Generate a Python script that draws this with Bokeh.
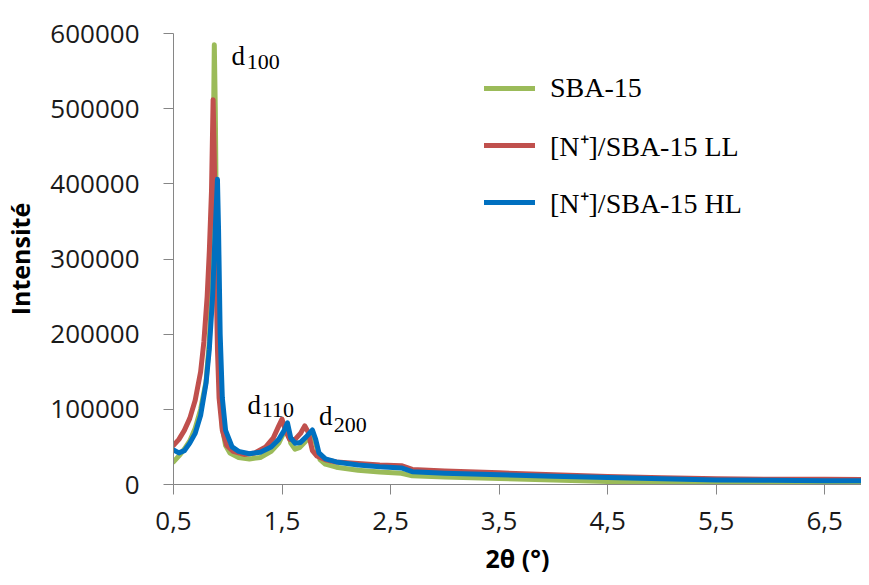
from bokeh.plotting import figure
from bokeh.models import Range1d, FixedTicker, Legend, LegendItem, Label
from bokeh.embed import file_html
from bokeh.resources import INLINE

# ---------------- data ----------------
SBA_X = [0.5, 0.55, 0.6, 0.65, 0.7, 0.75, 0.8, 0.83, 0.85, 0.86, 0.87, 0.876, 0.885, 0.895,
         0.91, 0.93, 0.95, 0.98, 1.02, 1.1, 1.2, 1.3, 1.4, 1.47, 1.52, 1.55, 1.58, 1.62, 1.66,
         1.72, 1.78, 1.81, 1.85, 1.9, 2.0, 2.2, 2.4, 2.6, 2.7, 3.0, 3.5, 4.0, 4.5, 5.0, 5.5,
         6.0, 6.5, 6.9]
SBA_Y = [30000, 38000, 47000, 58000, 75000, 100000, 137000, 190000, 260000, 360000, 500000,
         585000, 500000, 350000, 220000, 120000, 75000, 52000, 42000, 36000, 34000, 36000,
         44000, 55000, 70000, 78000, 55000, 47000, 49000, 58000, 68000, 55000, 33000, 27000,
         23000, 19000, 16500, 15000, 11500, 10000, 8000, 6000, 4000, 3500, 3000, 3000, 3000,
         3000]

LL_X = [0.5, 0.55, 0.6, 0.65, 0.7, 0.75, 0.78, 0.81, 0.83, 0.85, 0.865, 0.875, 0.89, 0.905,
        0.92, 0.95, 0.99, 1.05, 1.15, 1.25, 1.35, 1.42, 1.47, 1.5, 1.53, 1.57, 1.62, 1.67,
        1.71, 1.74, 1.78, 1.82, 1.9, 2.0, 2.2, 2.4, 2.6, 2.7, 3.0, 3.5, 4.0, 4.5, 5.0, 5.5,
        6.0, 6.5, 6.9]
LL_Y = [52000, 60000, 72000, 88000, 112000, 150000, 190000, 250000, 310000, 390000, 512000,
        440000, 300000, 180000, 115000, 72000, 52000, 44000, 40000, 42000, 50000, 62000,
        78000, 87000, 72000, 60000, 60000, 68000, 78000, 70000, 45000, 38000, 33000, 30000,
        28000, 26000, 25000, 20000, 18000, 15500, 13000, 10500, 9000, 7500, 7000, 7000, 6500]

HL_X = [0.5, 0.55, 0.6, 0.65, 0.7, 0.75, 0.8, 0.83, 0.86, 0.885, 0.905, 0.915, 0.93, 0.95,
        0.98, 1.04, 1.1, 1.2, 1.3, 1.4, 1.47, 1.52, 1.55, 1.58, 1.62, 1.67, 1.72, 1.78, 1.81,
        1.84, 1.9, 2.0, 2.2, 2.4, 2.6, 2.7, 3.0, 3.5, 4.0, 4.5, 5.0, 5.5, 6.0, 6.5, 6.9]
HL_Y = [46000, 42000, 45000, 55000, 68000, 92000, 135000, 180000, 250000, 340000, 406000,
        340000, 200000, 115000, 72000, 50000, 44000, 41000, 43000, 50000, 60000, 72000,
        82000, 62000, 55000, 56000, 63000, 72500, 60000, 42000, 34000, 30000, 26000, 23500,
        22000, 17000, 15000, 13000, 11000, 9200, 7500, 6100, 5500, 5000, 4800]

SERIES_NAMES = ["SBA-15", "[N\u207a]/SBA-15 LL", "[N\u207a]/SBA-15 HL"]
X_TICKS = [0.5, 1.5, 2.5, 3.5, 4.5, 5.5, 6.5]
X_TICK_LABELS = ["0,5", "1,5", "2,5", "3,5", "4,5", "5,5", "6,5"]
Y_TICKS = [0, 100000, 200000, 300000, 400000, 500000, 600000]
Y_TICK_LABELS = ["0", "100000", "200000", "300000", "400000", "500000", "600000"]
PEAK_NAMES = ["100", "110", "200"]

# ---------------- styling / layout ----------------
COLORS = ["#9BBB59", "#C0504D", "#0070C0"]
SANS = "Open Sans"
SERIF = "Liberation Serif"

p = figure(width=861, height=577, output_backend="svg", toolbar_location=None,
           x_range=Range1d(0.5, 6.839), y_range=Range1d(0, 600000),
           min_border_left=171, min_border_right=0, min_border_top=33,
           min_border_bottom=90)
p.outline_line_color = None
p.grid.visible = False
p.background_fill_color = "white"
p.border_fill_color = "white"

renderers = []
for xs, ys, c in zip([SBA_X, LL_X, HL_X], [SBA_Y, LL_Y, HL_Y], COLORS):
    r = p.line(xs, ys, line_color=c, line_width=5, line_join="round", line_cap="round")
    renderers.append(r)

# axes
xa = p.xaxis[0]
xa.ticker = FixedTicker(ticks=X_TICKS)
xa.major_label_overrides = {t: l for t, l in zip(X_TICKS, X_TICK_LABELS)}
xa.axis_label = "2\u03b8 (\u00b0)"
ya = p.yaxis[0]
ya.ticker = FixedTicker(ticks=Y_TICKS)
ya.major_label_overrides = {t: l for t, l in zip(Y_TICKS, Y_TICK_LABELS)}
ya.axis_label = "Intensit\u00e9"

for ax in (xa, ya):
    ax.axis_line_color = "#868686"
    ax.axis_line_width = 1
    ax.major_tick_line_color = "#868686"
    ax.major_tick_in = 0
    ax.major_tick_out = 10
    ax.minor_tick_line_color = None
    ax.major_label_text_font = SANS
    ax.major_label_text_font_size = "26px"
    ax.major_label_text_color = "#1a1a1a"
    ax.axis_label_text_font = SANS
    ax.axis_label_text_font_size = "25px"
    ax.axis_label_text_font_style = "bold"
    ax.axis_label_text_color = "#000000"
xa.major_label_standoff = 17
xa.axis_label_standoff = 8
ya.major_label_standoff = 24
ya.axis_label_standoff = 10

# peak annotations: "d" + subscript
D_POS = [(1.035, 570500), (1.182, 106400), (1.841, 91000)]
SUB_POS = [(1.175, 561700), (1.313, 99000), (1.977, 79200)]
for name, (dx, dy), (sx, sy) in zip(PEAK_NAMES, D_POS, SUB_POS):
    p.add_layout(Label(x=dx, y=dy, text="d", text_font=SERIF, text_font_size="27px",
                       text_color="#000000", text_baseline="alphabetic", text_align="left"))
    p.add_layout(Label(x=sx, y=sy, text=name, text_font=SERIF, text_font_size="22px",
                       text_color="#000000", text_baseline="alphabetic", text_align="left"))

legend = Legend(items=[LegendItem(label=n, renderers=[r]) for n, r in zip(SERIES_NAMES, renderers)],
                location=(311, 262))
legend.border_line_color = None
legend.background_fill_alpha = 0
legend.padding = 0
legend.margin = 0
legend.glyph_width = 51
legend.glyph_height = 40
legend.label_height = 40
legend.spacing = 17
legend.label_standoff = 15
legend.label_text_font = SERIF
legend.label_text_font_size = "28px"
legend.label_text_color = "#000000"
p.add_layout(legend, "center")

open("out.html", "w").write(file_html(p, INLINE))
